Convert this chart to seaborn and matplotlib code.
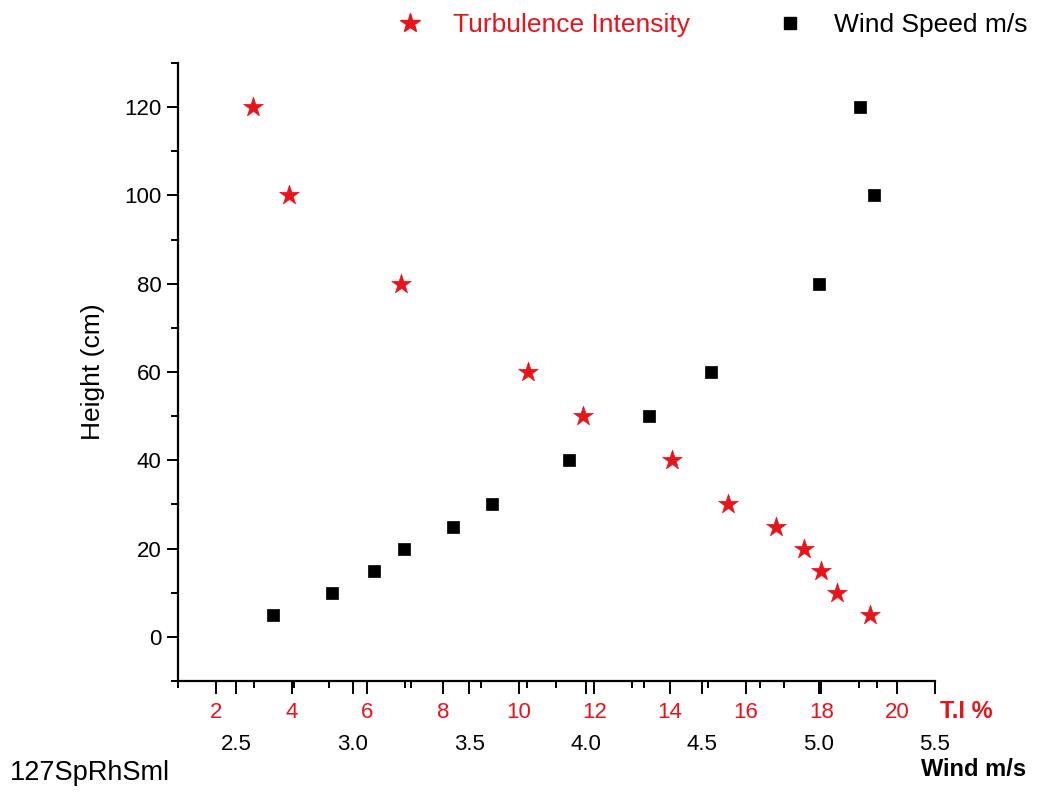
import matplotlib
matplotlib.use("Agg")
import matplotlib.pyplot as plt
from matplotlib.ticker import MultipleLocator, FixedLocator, FormatStrFormatter
from matplotlib.lines import Line2D
import seaborn as sns
import pandas as pd

# ---- data ----
height_ti = [120, 100, 80, 60, 50, 40, 30, 25, 20, 15, 10, 5]
turb_intensity = [2.98, 3.93, 6.90, 10.25, 11.71, 14.05, 15.54, 16.81, 17.54, 17.98, 18.41, 19.27]

height_ws = [5, 10, 15, 20, 25, 30, 40, 50, 60, 80, 100, 120]
wind_speed = [2.66, 2.91, 3.09, 3.22, 3.43, 3.60, 3.93, 4.27, 4.54, 5.00, 5.24, 5.18]

ti_ticks = [2, 4, 6, 8, 10, 12, 14, 16, 18, 20]
ws_ticks = [2.5, 3.0, 3.5, 4.0, 4.5, 5.0, 5.5]
y_ticks = [0, 20, 40, 60, 80, 100, 120]

RED = "#e8141c"

sns.set_style("ticks")
plt.rcParams['font.family'] = ['Liberation Sans', 'DejaVu Sans']
plt.rcParams.update({'text.color': 'black', 'axes.labelcolor': 'black',
                     'xtick.color': 'black', 'ytick.color': 'black',
                     'axes.edgecolor': 'black'})

df_ti = pd.DataFrame({"TI": turb_intensity, "Height": height_ti})
df_ws = pd.DataFrame({"WS": wind_speed, "Height": height_ws})

fig = plt.figure(figsize=(10.42, 7.92), dpi=100)
ax = fig.add_axes([178/1042, 1-681/792, (935-178)/1042, (681-63)/792])

sns.scatterplot(data=df_ti, x="TI", y="Height", ax=ax, marker="*", s=220,
                color=RED, edgecolor=RED, linewidth=0.5, legend=False, zorder=3)
ax.set_xlim(1, 21)
ax.set_ylim(-10, 130)

ax2 = ax.twiny()
sns.scatterplot(data=df_ws, x="WS", y="Height", ax=ax2, marker="s", s=75,
                color="black", edgecolor="black", linewidth=0.5, legend=False, zorder=3)
ax2.set_xlim(2.25, 5.5)
ax2.set_ylim(-10, 130)

# spines
for a in (ax, ax2):
    a.spines['top'].set_visible(False)
    a.spines['right'].set_visible(False)
    a.set_xlabel("")
ax2.spines['left'].set_visible(False)
ax.spines['left'].set_linewidth(1.6)
ax.spines['bottom'].set_linewidth(1.6)
ax2.spines['bottom'].set_visible(False)

# y axis
ax.yaxis.set_major_locator(FixedLocator(y_ticks))
ax.yaxis.set_minor_locator(MultipleLocator(10))
ax.tick_params(axis='y', which='major', length=8, width=1.4, labelsize=16, pad=4, direction='out')
ax.tick_params(axis='y', which='minor', length=5, width=1.4, direction='out')
ax.set_ylabel("Height (cm)", fontsize=19, labelpad=14)

# T.I. axis (red labels)
ax.xaxis.set_major_locator(FixedLocator(ti_ticks))
ax.xaxis.set_minor_locator(MultipleLocator(1))
ax.tick_params(axis='x', which='major', length=9, width=1.4, labelsize=16, pad=6,
               labelcolor=RED, direction='out')
ax.tick_params(axis='x', which='minor', length=5, width=1.4, direction='out')

# Wind axis (black labels, second row)
ax2.xaxis.set_ticks_position('bottom')
ax2.xaxis.set_label_position('bottom')
ax2.xaxis.set_major_locator(FixedLocator(ws_ticks))
ax2.xaxis.set_minor_locator(MultipleLocator(0.25))
ax2.xaxis.set_major_formatter(FormatStrFormatter('%.1f'))
ax2.tick_params(axis='x', which='major', bottom=True, top=False, length=9, width=1.4,
                labelsize=16, pad=29, labelbottom=True, labeltop=False, direction='out',
                labelcolor='black')
ax2.tick_params(axis='x', which='minor', bottom=True, top=False, length=5, width=1.4, direction='out')
ax2.tick_params(axis='y', left=False, right=False, labelleft=False, labelright=False)
ax2.set_ylabel("")

# axis titles
fig.text(966/1042, 1-712/792, "T.I %", color=RED, fontsize=17, fontweight='bold',
         ha='center', va='center')
fig.text(974/1042, 1-769/792, "Wind m/s", color='black', fontsize=17, fontweight='bold',
         ha='center', va='center')
fig.text(10/1042, 1-773/792, "127SpRhSml", color='black', fontsize=19.5,
         ha='left', va='center')

# legend
handles = [Line2D([], [], marker='*', color=RED, linestyle='none', markersize=15),
           Line2D([], [], marker='s', color='black', linestyle='none', markersize=9)]
leg = ax.legend(handles, ["Turbulence Intensity", "Wind Speed m/s"], ncol=2,
                loc='center left', bbox_to_anchor=(397/1042, 1-25/792),
                bbox_transform=fig.transFigure, frameon=False, fontsize=19,
                handlelength=1.0, handletextpad=1.13, columnspacing=3.3,
                borderpad=0, borderaxespad=0)
leg.get_texts()[0].set_color(RED)
leg.get_texts()[1].set_color('black')

fig.savefig("out.png", dpi=100, facecolor='white')
